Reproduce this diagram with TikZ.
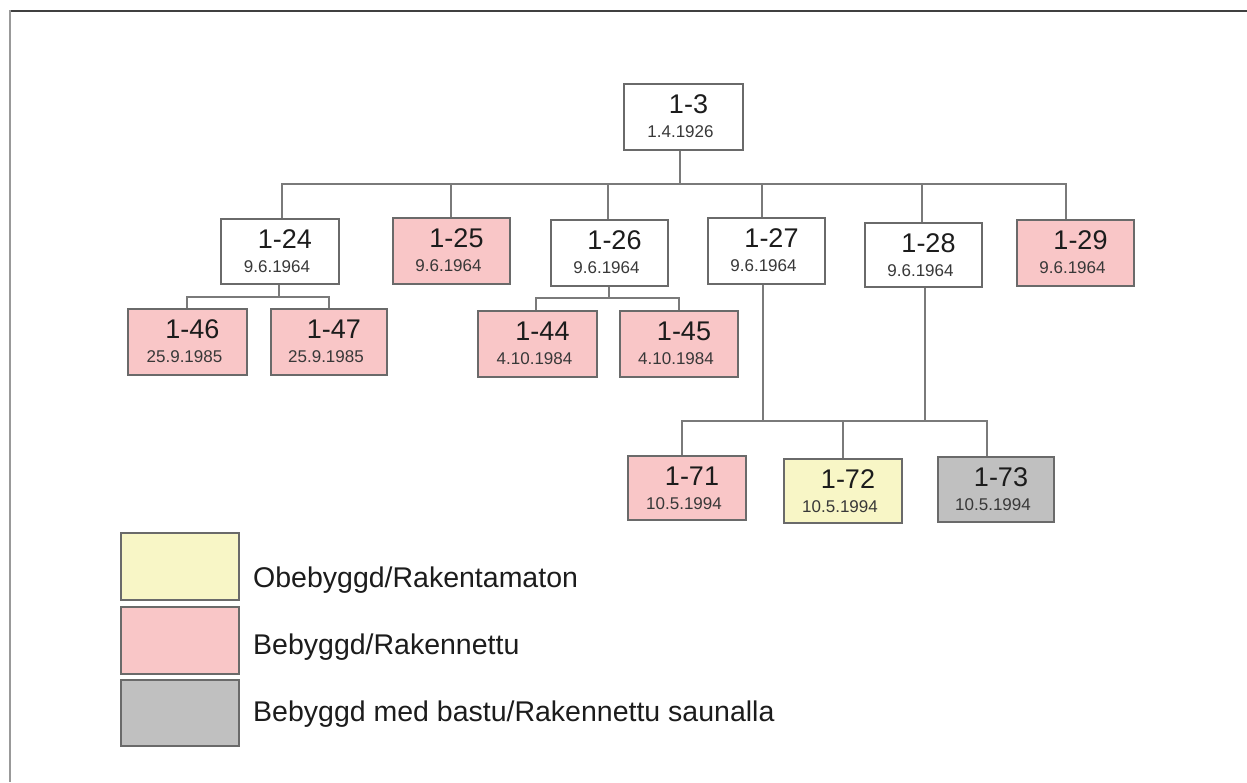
\documentclass[tikz,border=0pt]{standalone}
\usepackage{fontspec}
\setmainfont{Liberation Sans}
\usetikzlibrary{fit,calc}
\definecolor{pinkfill}{HTML}{F9C6C7}
\definecolor{yellowfill}{HTML}{F8F6C6}
\definecolor{grayfill}{HTML}{C0C0C0}
\definecolor{boxline}{HTML}{6A6A6A}
\definecolor{connline}{HTML}{7A7A7A}
\definecolor{labeltext}{HTML}{1C1C1C}
\definecolor{datetext}{HTML}{383838}
\tikzset{
  parcelbox/.style={draw=boxline, line width=1.6pt, inner sep=0pt},
  plain/.style={parcelbox, fill=white},
  built/.style={parcelbox, fill=pinkfill},
  vacant/.style={parcelbox, fill=yellowfill},
  sauna/.style={parcelbox, fill=grayfill},
  lbl/.style={inner sep=0pt, anchor=base, text=labeltext, font=\fontsize{27}{27}\selectfont},
  datelbl/.style={inner sep=0pt, anchor=base, text=datetext, font=\fontsize{17}{17}\selectfont},
  legtext/.style={inner sep=0pt, anchor=base west, text=labeltext, font=\fontsize{28.5}{28.5}\selectfont},
  conn/.style={draw=connline, line width=2pt},
}
\newcommand\lotbox[8]{%
  \coordinate (#1a) at (#3,#4);
  \coordinate (#1b) at (#5,#6);
  \node[#2, fit=(#1a)(#1b)] (#1) {};
  \node[lbl] (#1l) at ($(#1.north)+(5,30)$) {#7};
  \node[datelbl] (#1d) at ($(#1.north)+(-3,54)$) {#8};
}
\newcommand\legbox[6]{%
  \coordinate (#1a) at (121,#3);
  \coordinate (#1b) at (239,#4);
  \node[#2, fit=(#1a)(#1b)] (#1) {};
  \node[legtext] (#1t) at (253,#6) {#5};
}
\begin{document}
\begin{tikzpicture}[x={(1pt,0pt)}, y={(0pt,-1pt)}]
\useasboundingbox (0,0) rectangle (1247,782);
% frame
\draw[draw=black!75, line width=2pt] (9,11) -- (1247,11);
\draw[draw=black!40, line width=2pt] (10,10) -- (10,782);

% parcels
\lotbox{b3}{plain}{624}{84}{743}{150}{1-3}{1.4.1926}
\lotbox{b24}{plain}{221}{219}{339}{284}{1-24}{9.6.1964}
\lotbox{b25}{built}{393}{218}{510}{284}{1-25}{9.6.1964}
\lotbox{b26}{plain}{551}{220}{668}{286}{1-26}{9.6.1964}
\lotbox{b27}{plain}{708}{218}{825}{284}{1-27}{9.6.1964}
\lotbox{b28}{plain}{865}{223}{982}{287}{1-28}{9.6.1964}
\lotbox{b29}{built}{1017}{220}{1134}{286}{1-29}{9.6.1964}
\lotbox{b46}{built}{128}{309}{247}{375}{1-46}{25.9.1985}
\lotbox{b47}{built}{271}{309}{387}{375}{1-47}{25.9.1985}
\lotbox{b44}{built}{478}{311}{597}{377}{1-44}{4.10.1984}
\lotbox{b45}{built}{620}{311}{738}{377}{1-45}{4.10.1984}
\lotbox{b71}{built}{628}{456}{746}{520}{1-71}{10.5.1994}
\lotbox{b72}{vacant}{784}{459}{902}{523}{1-72}{10.5.1994}
\lotbox{b73}{sauna}{938}{457}{1054}{522}{1-73}{10.5.1994}

% buses
\coordinate (busTop) at (0,184);
\coordinate (bus24) at (0,297);
\coordinate (bus26) at (0,298);
\coordinate (busLow) at (0,421);

% top level
\coordinate (d3) at ([xshift=-3.5pt]b3.south);
\coordinate (d24) at ([xshift=2pt]b24.north);
\coordinate (d25) at ([xshift=-0.5pt]b25.north);
\coordinate (d26) at ([xshift=-1.5pt]b26.north);
\coordinate (d27) at ([xshift=-4.5pt]b27.north);
\coordinate (d28) at ([xshift=-1.5pt]b28.north);
\coordinate (d29) at ([xshift=-9.5pt]b29.north);
\draw[conn] (d3) -- (d3 |- busTop);
\draw[conn] (d24) |- (d29 |- busTop) -- (d29);
\foreach \n in {d25,d26,d27,d28} \draw[conn] (\n) -- (\n |- busTop);

% 1-24 children
\coordinate (u24) at ([xshift=-1pt]b24.south);
\coordinate (t46) at ([xshift=-0.5pt]b46.north);
\draw[conn] (u24) -- (u24 |- bus24);
\draw[conn] (t46) |- (b47.north |- bus24) -- (b47.north);

% 1-26 children
\coordinate (u26) at ([xshift=-0.5pt]b26.south);
\coordinate (t44) at ([xshift=-1.5pt]b44.north);
\draw[conn] (u26) -- (u26 |- bus26);
\draw[conn] (t44) |- (b45.north |- bus26) -- (b45.north);

% 1-27 / 1-28 children
\coordinate (u27) at ([xshift=-3.5pt]b27.south);
\coordinate (u28) at ([xshift=1.5pt]b28.south);
\coordinate (t71) at ([xshift=-5pt]b71.north);
\coordinate (t73) at ([xshift=-9pt]b73.north);
\draw[conn] (u27) -- (u27 |- busLow);
\draw[conn] (u28) -- (u28 |- busLow);
\draw[conn] (t71) |- (t73 |- busLow) -- (t73);
\draw[conn] (b72.north) -- (b72.north |- busLow);

% legend
\legbox{leg1}{vacant}{533}{600}{Obebyggd/Rakentamaton}{587}
\legbox{leg2}{built}{607}{674}{Bebyggd/Rakennettu}{654}
\legbox{leg3}{sauna}{680}{746}{Bebyggd med bastu/Rakennettu saunalla}{721}
\end{tikzpicture}
\end{document}
